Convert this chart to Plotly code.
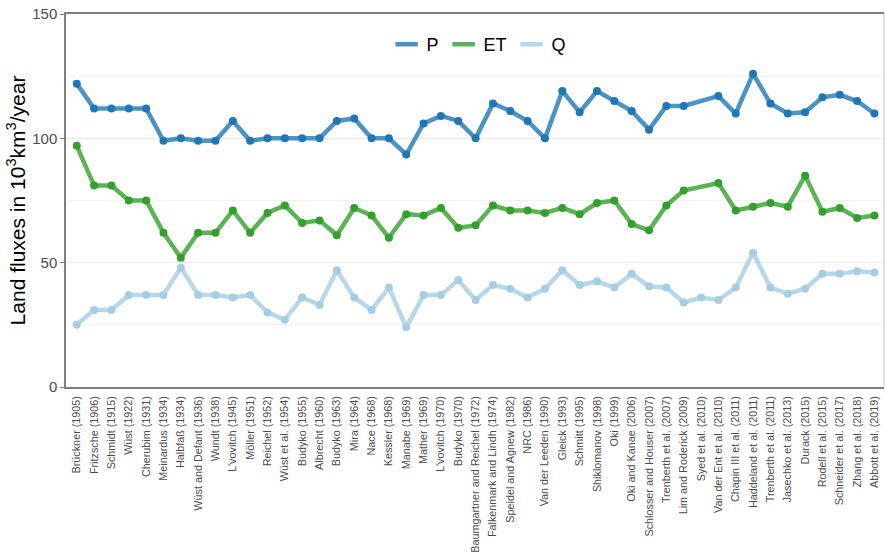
import plotly.graph_objects as go

studies = [
    "Brückner (1905)", "Fritzsche (1906)", "Schmidt (1915)", "Wüst (1922)", "Cherubim (1931)",
    "Meinardus (1934)", "Halbfaß (1934)", "Wüst and Defant (1936)", "Wundt (1938)", "L'vovitch (1945)",
    "Möller (1951)", "Reichel (1952)", "Wüst et al. (1954)", "Budyko (1955)", "Albrecht (1960)",
    "Budyko (1963)", "Mira (1964)", "Nace (1968)", "Kessler (1968)", "Manabe (1969)",
    "Mather (1969)", "L'vovitch (1970)", "Budyko (1970)", "Baumgartner and Reichel (1972)",
    "Falkenmark and Lindh (1974)", "Speidel and Agnew (1982)", "NRC (1986)", "Van der Leeden (1990)",
    "Gleick (1993)", "Schmitt (1995)", "Shiklomanov (1998)", "Oki (1999)", "Oki and Kanae (2006)",
    "Schlosser and Houser (2007)", "Trenberth et al. (2007)", "Lim and Roderick (2009)",
    "Syed et al. (2010)", "Van der Ent et al. (2010)", "Chapin III et al. (2011)",
    "Haddeland et al. (2011)", "Trenberth et al. (2011)", "Jasechko et al. (2013)", "Durack (2015)",
    "Rodell et al. (2015)", "Schneider et al. (2017)", "Zhang et al. (2018)", "Abbott et al. (2019)",
]

P = [122, 112, 112, 112, 112, 99, 100, 99, 99, 107,
     99, 100, 100, 100, 100, 107, 108, 100, 100, 93.5,
     106, 109, 107, 100, 114, 111, 107, 100, 119, 110.5,
     119, 115, 111, 103.5, 113, 113, None, 117, 110, 126,
     114, 110, 110.5, 116.5, 117.5, 115, 110]

ET = [97, 81, 81, 75, 75, 62, 52, 62, 62, 71,
      62, 70, 73, 66, 67, 61, 72, 69, 60, 69.5,
      69, 72, 64, 65, 73, 71, 71, 70, 72, 69.5,
      74, 75, 65.5, 63, 73, 79, None, 82, 71, 72.5,
      74, 72.5, 85, 70.5, 72, 68, 69]

Q = [25, 31, 31, 37, 37, 37, 48, 37, 37, 36,
     37, 30, 27, 36, 33, 47, 36, 31, 40, 24,
     37, 37, 43, 35, 41, 39.5, 36, 39.5, 47, 41,
     42.5, 40, 45.5, 40.5, 40, 34, 36, 35, 40, 54,
     40, 37.5, 39.5, 45.5, 45.5, 46.5, 46]

series = [("P", P, "31,120,180"), ("ET", ET, "51,160,44"), ("Q", Q, "166,206,227")]

fig = go.Figure()
for name, vals, rgb in series:
    fig.add_trace(go.Scatter(
        x=studies, y=vals, mode="lines+markers", name=name, showlegend=False,
        connectgaps=True,
        line=dict(color=f"rgba({rgb},0.8)", width=4.5),
        marker=dict(color=f"rgb({rgb})", size=8),
    ))
for name, vals, rgb in series:
    fig.add_trace(go.Scatter(
        x=[None], y=[None], mode="markers", name=name, showlegend=True,
        marker=dict(symbol="line-ew", size=16,
                    line=dict(color=f"rgba({rgb},0.8)", width=4.5)),
    ))

fig.update_layout(
    width=885, height=554,
    margin=dict(l=66, r=1, t=14, b=164),
    paper_bgcolor="white", plot_bgcolor="white",
    font=dict(family="Liberation Sans, Arial, sans-serif", color="#4d4d4d"),
    legend=dict(orientation="h", x=0.505, xanchor="center", y=0.918, yanchor="middle",
                font=dict(size=18, color="black"), itemwidth=30, itemsizing="trace",
                bgcolor="rgba(0,0,0,0)"),
    xaxis=dict(
        type="category", categoryorder="array", categoryarray=studies,
        range=[-0.62, 46.55], tickangle=-90, tickfont=dict(size=10.8, color="#4d4d4d"),
        showgrid=False, showline=True, linecolor="#7f7f7f", linewidth=1.5, mirror=True,
        ticks="", zeroline=False, ticklabelstandoff=3,
    ),
    yaxis=dict(
        range=[0, 150], tickvals=[0, 50, 100, 150], tickfont=dict(size=15, color="#4d4d4d"),
        showgrid=True, gridcolor="#ebebeb", gridwidth=1,
        minor=dict(dtick=25, showgrid=True, gridcolor="#f2f2f2", gridwidth=1),
        showline=True, linecolor="#7f7f7f", linewidth=1.5,
        ticks="outside", ticklen=4, tickcolor="#7f7f7f", zeroline=False,
        title=dict(text="Land fluxes in 10<sup>3</sup>km<sup>3</sup>/year",
                   font=dict(size=21, color="black"), standoff=1),
    ),
)
fig.add_shape(type="line", xref="paper", yref="paper", x0=1, x1=1, y0=0, y1=1,
              line=dict(color="#d9d9d9", width=1.5))

fig.write_html("out.html")
